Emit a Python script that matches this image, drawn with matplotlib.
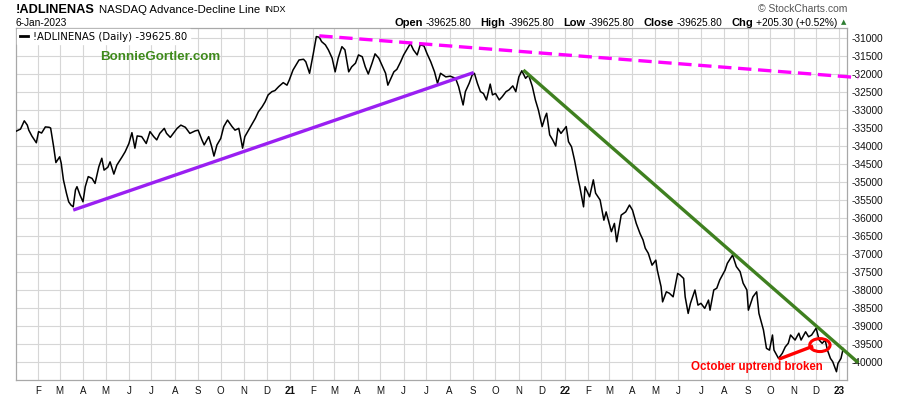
import matplotlib
matplotlib.use("Agg")
import matplotlib.pyplot as plt
import matplotlib.dates as mdates
from matplotlib.patches import Ellipse
import pandas as pd

# NASDAQ advance-decline line (roughly weekly)
dates_2020 = [
    "2020-01-02", "2020-01-09", "2020-01-14", "2020-01-18", "2020-01-20", "2020-01-24", "2020-01-30",
    "2020-02-02", "2020-02-06", "2020-02-11", "2020-02-16", "2020-02-18", "2020-02-22", "2020-02-25",
    "2020-03-01", "2020-03-03", "2020-03-06", "2020-03-10", "2020-03-13", "2020-03-16", "2020-03-19",
    "2020-03-22", "2020-03-24", "2020-03-28", "2020-04-01", "2020-04-04", "2020-04-08", "2020-04-13",
    "2020-04-17", "2020-04-22", "2020-04-26", "2020-04-29", "2020-05-04", "2020-05-07", "2020-05-12",
    "2020-05-16", "2020-05-23", "2020-05-27", "2020-06-01", "2020-06-05", "2020-06-09", "2020-06-12",
    "2020-06-18", "2020-06-24", "2020-06-29", "2020-07-04", "2020-07-08", "2020-07-12", "2020-07-18",
    "2020-07-21", "2020-07-26", "2020-07-30", "2020-08-04", "2020-08-09", "2020-08-15", "2020-08-21",
    "2020-08-28", "2020-09-01", "2020-09-06", "2020-09-09", "2020-09-15", "2020-09-19", "2020-09-22",
    "2020-09-26", "2020-10-01", "2020-10-05", "2020-10-10", "2020-10-16", "2020-10-20", "2020-10-25",
    "2020-10-28", "2020-10-30", "2020-11-02", "2020-11-07", "2020-11-11", "2020-11-16", "2020-11-20",
    "2020-11-25", "2020-11-29", "2020-12-03", "2020-12-08", "2020-12-12", "2020-12-17", "2020-12-23",
    "2020-12-28", "2020-12-31",
]
values_2020 = [
    -33600, -33530, -33300, -33420, -33560, -33720, -33910, -33600, -33640, -33470,
    -33480, -33500, -34020, -34460, -34300, -34470, -34940, -35310, -35550, -35640,
    -35690, -35220, -35130, -35360, -35550, -35130, -34850, -34900, -35040, -34580,
    -34340, -34670, -34590, -34440, -34780, -34530, -34300, -34160, -33930, -33630,
    -34060, -33720, -33740, -33930, -33600, -33740, -33830, -33650, -33510, -33650,
    -33760, -33650, -33510, -33420, -33480, -33650, -33580, -33560, -33830, -33970,
    -33740, -34020, -34280, -33970, -33790, -33460, -33280, -33460, -33560, -33510,
    -33830, -34060, -33740, -33560, -33420, -33230, -33050, -32910, -32770, -32580,
    -32490, -32460, -32350, -32240, -32310, -32170,
]

dates_2021 = [
    "2021-01-05", "2021-01-09", "2021-01-13", "2021-01-19", "2021-01-22", "2021-01-27", "2021-02-01",
    "2021-02-05", "2021-02-09", "2021-02-12", "2021-02-17", "2021-02-21", "2021-02-26", "2021-03-02",
    "2021-03-06", "2021-03-11", "2021-03-15", "2021-03-20", "2021-03-24", "2021-03-29", "2021-04-02",
    "2021-04-07", "2021-04-11", "2021-04-15", "2021-04-20", "2021-04-24", "2021-04-29", "2021-05-03",
    "2021-05-08", "2021-05-11", "2021-05-14", "2021-05-19", "2021-05-23", "2021-05-28", "2021-06-01",
    "2021-06-06", "2021-06-10", "2021-06-14", "2021-06-19", "2021-06-23", "2021-06-28", "2021-07-02",
    "2021-07-07", "2021-07-12", "2021-07-16", "2021-07-20", "2021-07-27", "2021-08-02", "2021-08-09",
    "2021-08-13", "2021-08-19", "2021-08-22", "2021-08-27", "2021-08-31", "2021-09-03", "2021-09-07",
    "2021-09-11", "2021-09-15", "2021-09-19", "2021-09-24", "2021-09-27", "2021-10-01", "2021-10-06",
    "2021-10-10", "2021-10-15", "2021-10-19", "2021-10-24", "2021-10-28", "2021-11-01", "2021-11-05",
    "2021-11-10", "2021-11-14", "2021-11-19", "2021-11-23", "2021-11-27", "2021-12-02", "2021-12-06",
    "2021-12-08", "2021-12-12", "2021-12-16", "2021-12-20", "2021-12-23", "2021-12-27",
]
values_2021 = [
    -31890, -31750, -31610, -31590, -31660, -31980, -31430, -30960, -30980, -31100,
    -31190, -31330, -31560, -31940, -31560, -31240, -31330, -31940, -31800, -31700,
    -31470, -31520, -31800, -32000, -31700, -31440, -31560, -31750, -31980, -32310,
    -32170, -31940, -31870, -31660, -31470, -31290, -31150, -31330, -31470, -31190,
    -31220, -31430, -31660, -31940, -32260, -31980, -32080, -32060, -32120, -32350,
    -32860, -32490, -32260, -32030, -31980, -32260, -32490, -32540, -32720, -32280,
    -32580, -32540, -32720, -32630, -32490, -32440, -32330, -32490, -32080, -31910,
    -32120, -32030, -32350, -32720, -33000, -33460, -33190, -33090, -33690, -33830,
    -34000, -33510, -33650,
]

dates_2022 = [
    "2022-01-03", "2022-01-06", "2022-01-10", "2022-01-14", "2022-01-19", "2022-01-21", "2022-01-26",
    "2022-01-28", "2022-02-03", "2022-02-08", "2022-02-11", "2022-02-17", "2022-02-22", "2022-02-25",
    "2022-03-04", "2022-03-08", "2022-03-11", "2022-03-17", "2022-03-23", "2022-03-28", "2022-04-01",
    "2022-04-06", "2022-04-11", "2022-04-15", "2022-04-18", "2022-04-22", "2022-04-27", "2022-05-02",
    "2022-05-04", "2022-05-09", "2022-05-11", "2022-05-16", "2022-05-20", "2022-05-25", "2022-05-31",
    "2022-06-03", "2022-06-08", "2022-06-10", "2022-06-14", "2022-06-17", "2022-06-23", "2022-06-27",
    "2022-07-01", "2022-07-06", "2022-07-11", "2022-07-13", "2022-07-18", "2022-07-22", "2022-07-26",
    "2022-08-02", "2022-08-05", "2022-08-12", "2022-08-17", "2022-08-22", "2022-08-26", "2022-08-31",
    "2022-09-02", "2022-09-08", "2022-09-13", "2022-09-16", "2022-09-22", "2022-09-26", "2022-09-30",
    "2022-10-04", "2022-10-06", "2022-10-12", "2022-10-17", "2022-10-21", "2022-10-25", "2022-10-28",
    "2022-11-03", "2022-11-08", "2022-11-11", "2022-11-17", "2022-11-21", "2022-11-25", "2022-12-01",
    "2022-12-05", "2022-12-09", "2022-12-13", "2022-12-16", "2022-12-20", "2022-12-23", "2022-12-28",
    "2022-12-30", "2023-01-03", "2023-01-06",
]
values_2022 = [
    -33460, -33880, -34020, -34390, -34940, -35130, -35690, -35130, -35410, -34940,
    -35310, -35500, -36060, -35830, -36380, -36150, -36660, -35920, -35830, -35640,
    -35780, -36150, -36430, -36610, -36840, -36980, -37310, -37170, -37450, -37910,
    -38330, -38050, -38090, -38190, -37540, -37580, -37680, -38190, -38650, -38370,
    -38000, -38420, -38370, -38510, -38280, -38560, -38000, -37950, -37720, -37450,
    -37260, -37030, -37350, -37490, -37810, -38000, -38560, -38190, -38050, -38650,
    -39110, -39620, -39670, -39250, -39670, -39900, -39760, -39580, -39480, -39250,
    -39390, -39200, -39390, -39160, -39300, -39250, -39060, -39390, -39480, -39390,
    -39670, -39900, -39990, -40270, -40040, -39900, -39625.8,
]

# hand drawn trend lines (start, end)
support_dates = ["2020-03-19", "2021-09-02"]
support_values = [-35780, -31960]
top_dates = ["2021-02-09", "2023-01-26"]
top_values = [-30940, -32100]
down_dates = ["2021-11-07", "2023-01-26"]
down_values = [-31890, -40020]
october_dates = ["2022-10-12", "2022-11-27"]
october_values = [-39925, -39560]

W, H = 900, 396


def px(x):
    return x / W


def py(y):
    return 1 - y / H


def text_row(fig, items, x, y, align="left"):
    """
    Ставить шматки тексту один за одним в рядок (x, y у пікселях).

    :param items: список (текст, розмір, жирний, відступ після)
    """
    renderer = fig.canvas.get_renderer()
    texts = []
    widths = []
    for txt, size, bold, gap in items:
        t = fig.text(0, py(y), txt, fontsize=size,
                     fontweight="bold" if bold else "normal", va="center")
        widths.append(t.get_window_extent(renderer).width + gap)
        texts.append(t)
    if align == "right":
        x = x - sum(widths) + items[-1][3]
    for t, w in zip(texts, widths):
        t.set_x(px(x))
        x += w
    return texts


series = pd.Series(values_2020 + values_2021 + values_2022,
                   index=pd.to_datetime(dates_2020 + dates_2021 + dates_2022))

plt.rcParams["font.family"] = ["Liberation Sans", "DejaVu Sans"]
plt.rcParams["axes.unicode_minus"] = False

fig = plt.figure(figsize=(W / 100, H / 100), dpi=100)
fig.patch.set_facecolor("white")
ax = fig.add_axes([px(16), py(380), px(847 - 16), (380 - 28) / H])

ax.plot(series.index, series.values, color="black", lw=1.1, zorder=3,
        label="!ADLINENAS (Daily) -39625.80")

# trend lines
ax.plot(pd.to_datetime(support_dates), support_values, color="#9a1ff2", lw=2.4,
        solid_capstyle="butt", zorder=4, clip_on=False)
ax.plot(pd.to_datetime(top_dates), top_values, color="#ff00ff", lw=2.4,
        dashes=(4, 2), zorder=4, clip_on=False)
ax.plot(pd.to_datetime(down_dates), down_values, color="#3f8020", lw=2.4,
        solid_capstyle="butt", zorder=4, clip_on=False)
ax.plot(pd.to_datetime(october_dates), october_values, color="#ff0000", lw=2.4,
        solid_capstyle="butt", zorder=5, clip_on=False)
ax.add_patch(Ellipse((mdates.date2num(pd.Timestamp("2022-12-06")), -39530), 27, 360,
                     fill=False, edgecolor="#ff0000", lw=2.2, zorder=5))
ax.text(mdates.date2num(pd.Timestamp("2022-09-13")), -40140, "October uptrend broken",
        color="#ff0000", fontsize=8.3, fontweight="bold", ha="center", va="center", zorder=6)

# axes limits and ticks
ax.set_xlim(mdates.date2num(pd.Timestamp("2020-01-03")), mdates.date2num(pd.Timestamp("2023-01-11")))
ax.set_ylim(-40500, -30722)

month_ticks = pd.date_range("2020-02-01", "2023-01-01", freq="MS")
ax.set_xticks(mdates.date2num(month_ticks))
labels = [d.strftime("%y") if d.month == 1 else "JFMAMJJASOND"[d.month - 1] for d in month_ticks]
ax.set_xticklabels(labels)
for lab, d in zip(ax.get_xticklabels(), month_ticks):
    if d.month == 1:
        lab.set_fontweight("bold")
        lab.set_fontsize(8)

y_ticks = list(range(-40000, -30999, 500))
ax.set_yticks(y_ticks)
ax.set_yticklabels([str(v) for v in y_ticks])
ax.yaxis.tick_right()
ax.tick_params(axis="y", length=0, pad=3, labelsize=7.3, colors="#111111")
ax.tick_params(axis="x", length=0, pad=4, labelsize=7, colors="#111111")

ax.grid(True, color="#d6d6d6", lw=0.8, zorder=0)
for s in ax.spines.values():
    s.set_color("#a8a8a8")
    s.set_linewidth(0.9)

leg = ax.legend(loc="upper left", bbox_to_anchor=(0, 1), borderaxespad=0.1,
                frameon=True, fancybox=False, handlelength=0.8, handletextpad=0.5,
                borderpad=0.25, prop={"family": "DejaVu Sans", "size": 7.3})
leg.get_frame().set_facecolor("white")
leg.get_frame().set_edgecolor("white")
leg.get_frame().set_alpha(1)
leg.get_lines()[0].set_linewidth(2)

ax.text(0.101, 0.917, "BonnieGortler.com", transform=ax.transAxes, color="#3f8a1c",
        fontsize=9.6, fontweight="bold", va="center", ha="left")

# header
text_row(fig, [("!ADLINENAS", 9.2, True, 4), ("NASDAQ Advance-Decline Line", 8.2, False, 4),
               ("INDX", 6.5, False, 0)], 16, 10)
fig.text(px(16), py(22.5), "6-Jan-2023", fontsize=7.3, va="center")
fig.text(px(847), py(9), "\u00a9 StockCharts.com", fontsize=7.5, color="#555555",
         ha="right", va="center")

header = [
    ("Open", 8, True, 3), ("-39625.80", 7.3, False, 9),
    ("High", 8, True, 3), ("-39625.80", 7.3, False, 9),
    ("Low", 8, True, 3), ("-39625.80", 7.3, False, 9),
    ("Close", 8, True, 3), ("-39625.80", 7.3, False, 9),
    ("Chg", 8, True, 3), ("+205.30 (+0.52%)", 7.3, False, 0),
]
text_row(fig, header, 837, 22.5, align="right")
fig.text(px(844), py(22.5), "\u25b2", fontsize=5, color="#2e7d32", va="center", ha="center",
         family="DejaVu Sans")

fig.savefig("out.png", dpi=100, facecolor="white")
plt.close(fig)
